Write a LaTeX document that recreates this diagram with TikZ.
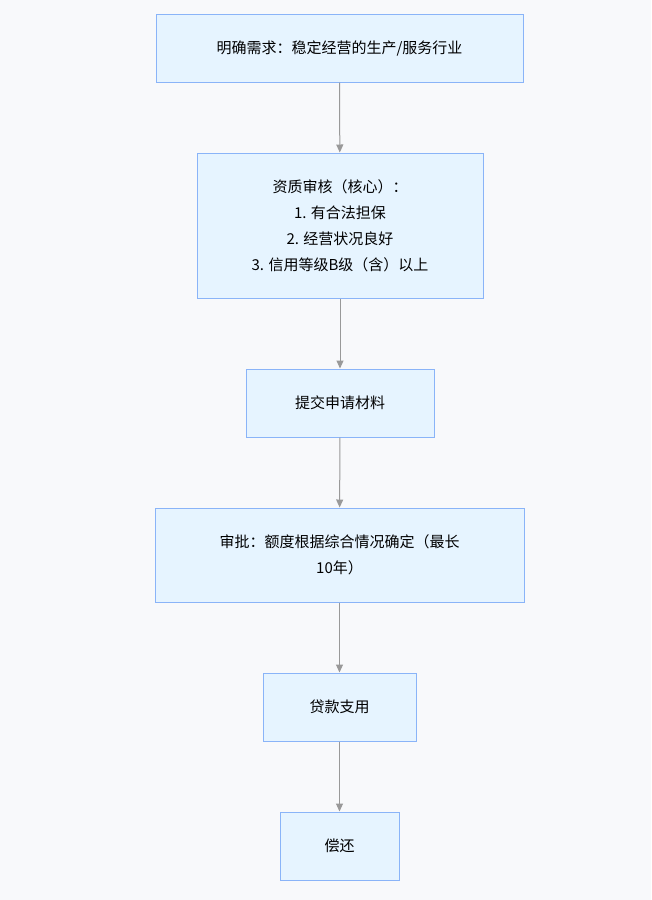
\documentclass[tikz,border=0pt]{standalone}
\usepackage{fontspec}
\setmainfont{Noto Sans CJK SC}
\usetikzlibrary{arrows.meta}
\definecolor{boxfill}{HTML}{E6F4FF}
\definecolor{boxline}{HTML}{8AB4F8}
\definecolor{bgcol}{HTML}{F8F9FB}
\tikzset{
  stage/.style={draw=boxline, fill=boxfill, line width=1pt, align=center,
    font=\fontsize{15}{26}\selectfont, inner sep=0pt},
  flow/.style={draw=gray!80, line width=1pt, -{Triangle[length=8pt,width=7pt]}}
}
\begin{document}
\begin{tikzpicture}[x=1pt,y=-1pt]
\fill[bgcol] (0,0) rectangle (651,900);
\useasboundingbox (0,0) rectangle (651,900);

\node[stage, minimum width=367pt, minimum height=68pt] (need) at (339.5,48) {明确需求：稳定经营的生产/服务行业};
\node[stage, minimum width=286pt, minimum height=145pt] (check) at (340,225.5)
  {资质审核（核心）：\\1. 有合法担保\\2. 经营状况良好\\3. 信用等级B级（含）以上};
\node[stage, minimum width=188pt, minimum height=68pt] (submit) at (340,403) {提交申请材料};
\node[stage, minimum width=369pt, minimum height=94pt] (approve) at (339.5,555)
  {审批：额度根据综合情况确定（最长\\10年）};
\node[stage, minimum width=153pt, minimum height=68pt] (pay) at (339.5,707) {贷款支用};
\node[stage, minimum width=119pt, minimum height=68pt] (repay) at (339.5,846) {偿还};

\draw[flow] (need) -- (check);
\draw[flow] (check) -- (submit);
\draw[flow] (submit) -- (approve);
\draw[flow] (approve) -- (pay);
\draw[flow] (pay) -- (repay);
\end{tikzpicture}
\end{document}
